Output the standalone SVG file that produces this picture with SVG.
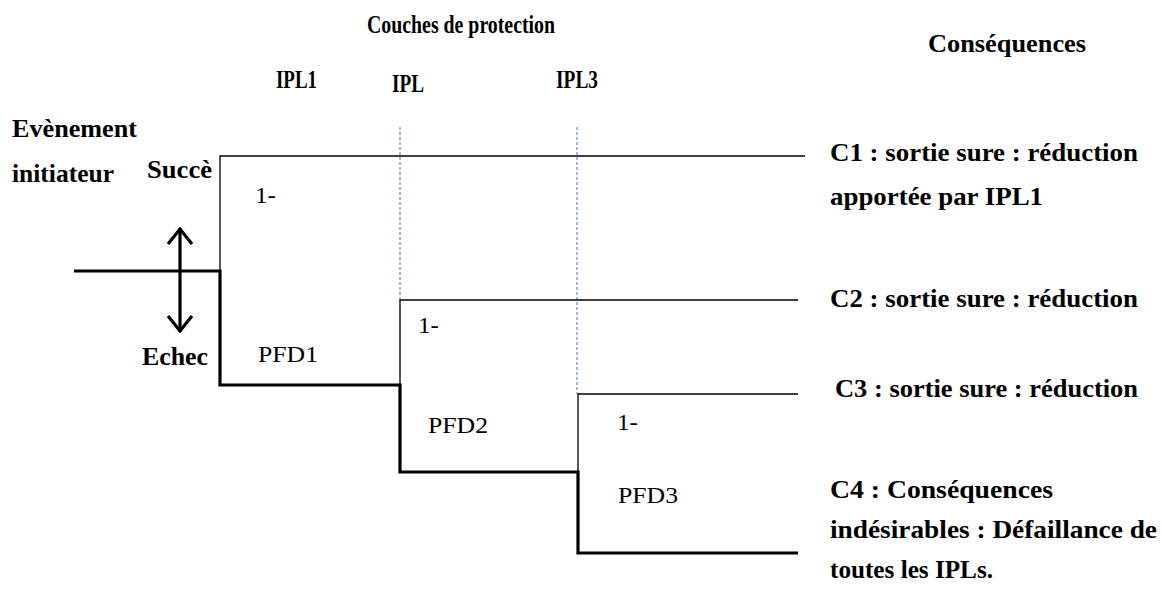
<svg xmlns="http://www.w3.org/2000/svg" width="1164" height="594" viewBox="0 0 1164 594">
<defs>
<style>
.t{font-family:"Liberation Serif","Times New Roman",serif;fill:#000}
.b{font-weight:bold;font-size:25px}
.h{font-weight:bold;font-size:26px}
.r{font-size:24px}
.thin{stroke:#000;stroke-width:1.3;fill:none}
.thick{stroke:#000;stroke-width:3.2;fill:none}
.dash{stroke:#4472C4;stroke-width:1;stroke-dasharray:3 2;fill:none}
</style>
<marker id="chev" viewBox="0 0 20 26" refX="18" refY="13" markerWidth="20" markerHeight="26" markerUnits="userSpaceOnUse" orient="auto-start-reverse">
<path d="M2,1 L17,13 L2,25" fill="none" stroke="#000" stroke-width="3.2"/>
</marker>
</defs>
<rect width="1164" height="594" fill="#fff"/>

<g id="headers">
<text class="t h" x="367" y="33" textLength="188" lengthAdjust="spacingAndGlyphs">Couches de protection</text>
<text class="t b" x="928" y="52" textLength="158" lengthAdjust="spacingAndGlyphs">Conséquences</text>
<text class="t h" x="276" y="88" textLength="41" lengthAdjust="spacingAndGlyphs">IPL1</text>
<text class="t h" x="392" y="92" textLength="32" lengthAdjust="spacingAndGlyphs">IPL</text>
<text class="t h" x="556" y="88" textLength="42" lengthAdjust="spacingAndGlyphs">IPL3</text>
</g>

<g id="initiating-event">
<text class="t b" x="12" y="137" textLength="125" lengthAdjust="spacingAndGlyphs">Evènement</text>
<text class="t b" x="12" y="182" textLength="102" lengthAdjust="spacingAndGlyphs">initiateur</text>
<text class="t b" x="147" y="178" textLength="65" lengthAdjust="spacingAndGlyphs">Succè</text>
<text class="t b" x="142" y="365" textLength="66" lengthAdjust="spacingAndGlyphs">Echec</text>
</g>

<g id="connectors">
<line class="dash" x1="400" y1="127" x2="400" y2="300"/>
<line class="dash" x1="577" y1="127" x2="577" y2="394"/>
<polyline class="thin" points="220,271 220,156 805,156"/>
<polyline class="thin" points="400,386 400,300 798,300"/>
<polyline class="thin" points="578,472 578,394 798,394"/>
<polyline class="thick" points="74,271 220,271 220,385 400,385 400,472 578,472 578,553 798,553"/>
<line x1="180" y1="228" x2="180" y2="332" stroke="#000" stroke-width="3.2" marker-start="url(#chev)" marker-end="url(#chev)"/>
</g>

<g id="ipl1">
<text class="t r" x="255" y="203" textLength="21" lengthAdjust="spacingAndGlyphs">1-</text>
<text class="t r" x="258" y="362" textLength="60" lengthAdjust="spacingAndGlyphs">PFD1</text>
</g>
<g id="ipl2">
<text class="t r" x="418" y="333" textLength="21" lengthAdjust="spacingAndGlyphs">1-</text>
<text class="t r" x="428" y="433" textLength="60" lengthAdjust="spacingAndGlyphs">PFD2</text>
</g>
<g id="ipl3">
<text class="t r" x="617" y="430" textLength="21" lengthAdjust="spacingAndGlyphs">1-</text>
<text class="t r" x="618" y="503" textLength="60" lengthAdjust="spacingAndGlyphs">PFD3</text>
</g>

<g id="c1">
<text class="t b" x="830" y="161" textLength="308" lengthAdjust="spacingAndGlyphs">C1 : sortie sure : réduction</text>
<text class="t b" x="830" y="205" textLength="213" lengthAdjust="spacingAndGlyphs">apportée par IPL1</text>
</g>
<g id="c2">
<text class="t b" x="830" y="307" textLength="308" lengthAdjust="spacingAndGlyphs">C2 : sortie sure : réduction</text>
</g>
<g id="c3">
<text class="t b" x="835" y="397" textLength="303" lengthAdjust="spacingAndGlyphs">C3 : sortie sure : réduction</text>
</g>
<g id="c4">
<text class="t b" x="830" y="498" textLength="223" lengthAdjust="spacingAndGlyphs">C4 : Conséquences</text>
<text class="t b" x="830" y="538" textLength="327" lengthAdjust="spacingAndGlyphs">indésirables : Défaillance de</text>
<text class="t b" x="830" y="578" textLength="163" lengthAdjust="spacingAndGlyphs">toutes les IPLs.</text>
</g>
</svg>
